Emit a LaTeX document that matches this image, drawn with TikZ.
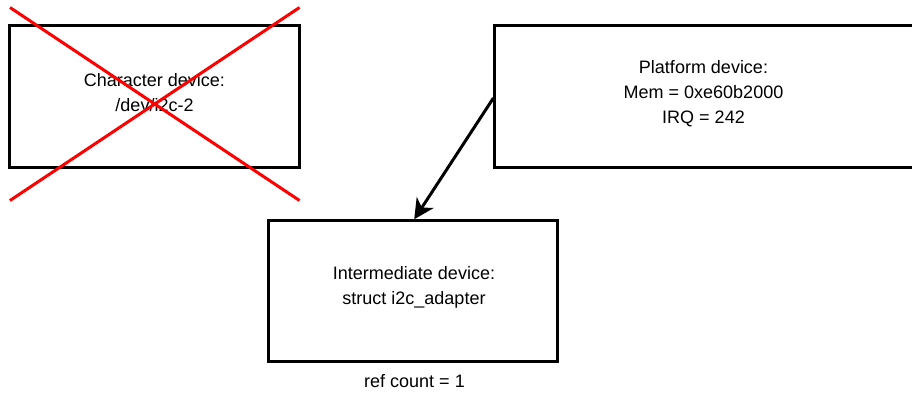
\documentclass[tikz,border=0pt]{standalone}
\usepackage{fontspec}
\setmainfont{Liberation Sans}
\usetikzlibrary{arrows.meta}
\begin{document}
\begin{tikzpicture}[x=1pt, y=-1pt,
  box/.style={draw=black, line width=3pt, rectangle, inner sep=0pt},
  txt/.style={font=\fontsize{18}{25}\selectfont, text=black, anchor=base, inner sep=0pt},
  cross/.style={draw=red, line width=3pt},
  link/.style={draw=black, line width=3pt, -{Stealth[length=20pt, width=20pt, inset=6pt]}}]
\useasboundingbox (0,0) rectangle (912,392);
\clip (0,0) rectangle (912,392);

% device boxes
\node[box, minimum width=289.4pt, minimum height=142pt] (chr) at (154.5,96.5) {};
\node[box, minimum width=420pt, minimum height=142pt] (plat) at (704.9,96.5) {};
\node[box, minimum width=288.7pt, minimum height=140.4pt] (inter) at (413.2,291) {};

% box labels
\node[txt] (chrA) at (154.5,86) {Character device:};
\node[txt] (chrB) at (154.5,111) {/dev/i2c-2};

\node[txt] (platA) at (703.5,73) {Platform device:};
\node[txt] (platB) at (703.5,98) {Mem = 0xe60b2000};
\node[txt] (platC) at (703.5,123) {IRQ = 242};

\node[txt] (interA) at (414,279) {Intermediate device:};
\node[txt] (interB) at (414,304) {struct i2c\_adapter};

\node[txt] (refcnt) at (414.5,387) {ref count = 1};

% link from the platform device to the adapter
\draw[link] ([yshift=-1.5pt]plat.west) -- ([xshift=1pt]inter.north);

% removed character device
\coordinate (xa) at (10,7.5);
\coordinate (xb) at (299.5,200.5);
\coordinate (xc) at (299.5,7.5);
\coordinate (xd) at (10,200.5);
\draw[cross] (xa) -- (xb);
\draw[cross] (xc) -- (xd);
\end{tikzpicture}
\end{document}
